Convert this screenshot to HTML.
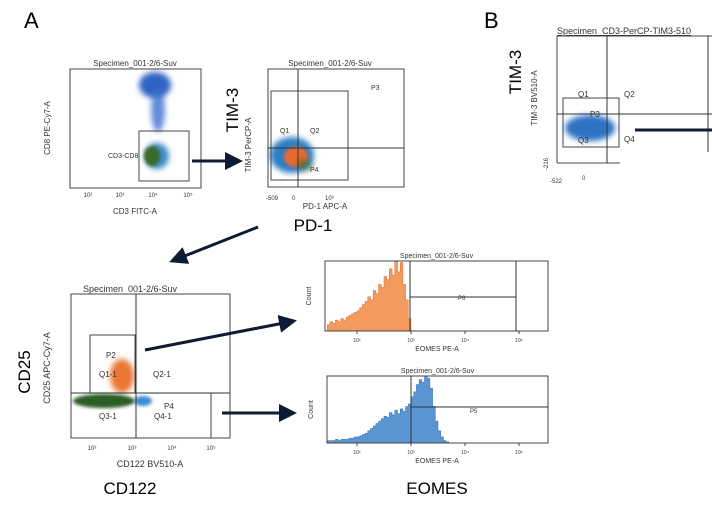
<!DOCTYPE html>
<html><head><meta charset="utf-8"><style>
body{margin:0;background:#fff;}
svg text{font-family:"Liberation Sans",sans-serif;}
</style></head><body>
<svg id="fig" width="712" height="505" viewBox="0 0 712 505" xmlns="http://www.w3.org/2000/svg">
<defs>
<filter id="bl" x="-50%" y="-50%" width="200%" height="200%"><feGaussianBlur stdDeviation="3"/></filter>
<filter id="bl2" x="-50%" y="-50%" width="200%" height="200%"><feGaussianBlur stdDeviation="1.5"/></filter>
<marker id="ah" markerWidth="6" markerHeight="6" refX="5" refY="3" orient="auto"><path d="M0,0 L6,3 L0,6 z" fill="#0d1b33"/></marker>
</defs>

<text x="24" y="28" font-size="22">A</text>
<text x="484" y="28" font-size="22">B</text>

<!-- Plot 1 CD3/CD8 -->
<g>
<text x="135" y="66" font-size="8" text-anchor="middle" fill="#333">Specimen_001-2/6-Suv</text>
<rect x="70" y="69" width="131" height="119" fill="#fff" stroke="#444"/>
<ellipse cx="155" cy="85" rx="16" ry="13" fill="#2f63c4" filter="url(#bl)"/>
<ellipse cx="158" cy="110" rx="7" ry="22" fill="#3d6fd0" filter="url(#bl)" opacity="0.8"/>
<ellipse cx="157" cy="156" rx="12" ry="13" fill="#3a8bc6" filter="url(#bl)"/>
<ellipse cx="152" cy="156" rx="8" ry="10" fill="#3b6b2a" filter="url(#bl2)"/>
<rect x="139" y="131" width="50" height="50" fill="none" stroke="#444"/>
<text x="108" y="158" font-size="7" fill="#333">CD3-CD8</text>
<g font-size="6" fill="#333"><text x="88" y="197" text-anchor="middle">10²</text><text x="120" y="197" text-anchor="middle">10³</text><text x="153" y="197" text-anchor="middle">10⁴</text><text x="188" y="197" text-anchor="middle">10⁵</text></g>
<text x="135" y="214" font-size="8" text-anchor="middle" fill="#333">CD3 FITC-A</text>
<text transform="translate(50,128) rotate(-90)" font-size="8" text-anchor="middle" fill="#333">CD8 PE-Cy7-A</text>
</g>
<line x1="192" y1="161" x2="240" y2="161" stroke="#0d1b33" stroke-width="3" marker-end="url(#ah)"/>

<!-- Plot 2 TIM-3/PD-1 -->
<g>
<text x="330" y="66" font-size="8" text-anchor="middle" fill="#333">Specimen_001-2/6-Suv</text>
<rect x="268" y="69" width="136" height="118" fill="#fff" stroke="#444"/>
<ellipse cx="292" cy="155" rx="22" ry="18" fill="#2f7dc4" filter="url(#bl)"/>
<ellipse cx="296" cy="157" rx="12" ry="10" fill="#e96a2e" filter="url(#bl2)"/>
<ellipse cx="305" cy="165" rx="8" ry="6" fill="#3b6b2a" filter="url(#bl)" opacity="0.6"/>
<rect x="271" y="91" width="77" height="89" fill="none" stroke="#444"/>
<line x1="298" y1="69" x2="298" y2="187" stroke="#333"/>
<line x1="268" y1="148" x2="404" y2="148" stroke="#333"/>
<g font-size="7" fill="#333"><text x="280" y="133">Q1</text><text x="310" y="133">Q2</text><text x="371" y="90">P3</text><text x="310" y="172">P4</text></g>
<g font-size="6" fill="#333"><text x="266" y="200">-509</text><text x="292" y="200">0</text><text x="325" y="200">10³</text></g>
<text x="325" y="209" font-size="8" text-anchor="middle" fill="#333">PD-1 APC-A</text>
<text transform="translate(251,145) rotate(-90)" font-size="8" text-anchor="middle" fill="#333">TIM-3 PerCP-A</text>
<text transform="translate(238,110) rotate(-90)" font-size="17" text-anchor="middle">TIM-3</text>
<text x="313" y="231" font-size="17" text-anchor="middle">PD-1</text>
</g>
<line x1="258" y1="227" x2="172" y2="261" stroke="#0d1b33" stroke-width="3" marker-end="url(#ah)"/>

<!-- Panel B -->
<g>
<text x="557" y="34" font-size="9" fill="#333" text-decoration="underline">Specimen_CD3-PerCP-TIM3-510</text>
<line x1="557" y1="36" x2="712" y2="36" stroke="#444"/>
<line x1="557" y1="36" x2="557" y2="163" stroke="#444"/>
<line x1="557" y1="163" x2="620" y2="163" stroke="#444"/>
<ellipse cx="590" cy="128" rx="25" ry="13" fill="#2f72c4" filter="url(#bl)"/>
<rect x="563" y="98" width="56" height="49" fill="none" stroke="#444"/>
<line x1="607" y1="36" x2="607" y2="163" stroke="#333"/>
<line x1="557" y1="114" x2="712" y2="114" stroke="#333"/>
<line x1="708" y1="36" x2="708" y2="152" stroke="#333"/>
<g font-size="8" fill="#333"><text x="578" y="97">Q1</text><text x="624" y="97">Q2</text><text x="590" y="117">P3</text><text x="578" y="143">Q3</text><text x="624" y="142">Q4</text></g>
<g font-size="6" fill="#333"><text x="550" y="183">-522</text><text x="582" y="180">0</text><text transform="translate(548,170) rotate(-90)">-216</text></g>
<text transform="translate(537,98) rotate(-90)" font-size="8" text-anchor="middle" fill="#333">TIM-3 BV510-A</text>
<text transform="translate(521,72) rotate(-90)" font-size="17" text-anchor="middle">TIM-3</text>
<line x1="635" y1="130" x2="712" y2="130" stroke="#0d1b33" stroke-width="3"/>
</g>

<!-- Plot 3 CD25/CD122 -->
<g>
<text x="130" y="292" font-size="9" text-anchor="middle" fill="#333">Specimen_001-2/6-Suv</text>
<rect x="71" y="294" width="159" height="144" fill="#fff" stroke="#444"/>
<ellipse cx="122" cy="376" rx="12" ry="17" fill="#ea7632" filter="url(#bl)"/>
<ellipse cx="104" cy="401" rx="31" ry="7" fill="#2c5e25" filter="url(#bl2)"/>
<ellipse cx="143" cy="401" rx="9" ry="5" fill="#3d8bd1" filter="url(#bl2)"/>
<rect x="90" y="335" width="45" height="58" fill="none" stroke="#444"/>
<rect x="136" y="393" width="75" height="45" fill="none" stroke="#444"/>
<line x1="136" y1="294" x2="136" y2="438" stroke="#333"/>
<line x1="71" y1="393" x2="230" y2="393" stroke="#333"/>
<g font-size="8" fill="#333"><text x="106" y="358">P2</text><text x="99" y="377">Q1-1</text><text x="153" y="377">Q2-1</text><text x="164" y="409">P4</text><text x="154" y="419">Q4-1</text><text x="99" y="419">Q3-1</text></g>
<g font-size="6" fill="#333"><text x="92" y="450" text-anchor="middle">10²</text><text x="132" y="450" text-anchor="middle">10³</text><text x="172" y="450" text-anchor="middle">10⁴</text><text x="211" y="450" text-anchor="middle">10⁵</text></g>
<text x="150" y="467" font-size="9" text-anchor="middle" fill="#333">CD122 BV510-A</text>
<text transform="translate(50,368) rotate(-90)" font-size="9" text-anchor="middle" fill="#333">CD25 APC-Cy7-A</text>
<text transform="translate(30,372) rotate(-90)" font-size="17" text-anchor="middle">CD25</text>
<text x="130" y="494" font-size="17" text-anchor="middle">CD122</text>
</g>
<line x1="145" y1="350" x2="294" y2="321" stroke="#0d1b33" stroke-width="3" marker-end="url(#ah)"/>
<line x1="222" y1="413" x2="294" y2="413" stroke="#0d1b33" stroke-width="3" marker-end="url(#ah)"/>

<g id="h1"></g>
<g id="h2"></g>
<text x="437" y="494" font-size="17" text-anchor="middle">EOMES</text>
</svg>
<script>
const logStart = 1.45, binW = 0.05;
const orangeCounts = [4,6,5,7,6,8,7,9,10,11,12,13,15,17,19,22,20,26,24,30,28,35,33,40,36,45,38,44,30,20,8,0];
const blueCounts = [2,2,2,3,2,3,3,3,4,4,5,5,6,7,8,10,12,14,16,18,20,22,21,25,23,27,24,28,26,30,32,38,42,48,52,50,55,53,45,30,18,10,5,2,1,0];
const tickExps = [2,3,4,5];
const tickLabels = ['10²','10³','10⁴','10⁵'];
const NS='http://www.w3.org/2000/svg';
function el(p,t,a){const e=document.createElementNS(NS,t);for(const k in a)e.setAttribute(k,a[k]);p.appendChild(e);return e;}
function hist(g,o){
  const xs=v=>o.x0+(v-2)*54;
  const ys=c=>o.yb-c/o.ymax*(o.yb-o.yt);
  const t=el(g,'text',{x:(o.l+o.r)/2,y:o.yt-3,'font-size':7,'text-anchor':'middle',fill:'#333'});t.textContent='Specimen_001-2/6-Suv';
  let d='M'+xs(logStart)+','+o.yb;
  o.data.forEach((c,i)=>{d+=' L'+xs(logStart+i*binW)+','+ys(c)+' L'+xs(logStart+(i+1)*binW)+','+ys(c);});
  d+=' L'+xs(logStart+o.data.length*binW)+','+o.yb+'Z';
  const p=el(g,'path',{d:d,fill:o.color,stroke:o.stroke,'stroke-width':0.5});
  
  
  el(g,'rect',{x:o.l,y:o.yt,width:o.r-o.l,height:o.yb-o.yt,fill:'none',stroke:'#444'});
  tickExps.forEach((e,i)=>{const tx=el(g,'text',{x:xs(e),y:o.yb+11,'font-size':5,'text-anchor':'middle',fill:'#333'});tx.textContent=tickLabels[i];
    el(g,'line',{x1:xs(e),x2:xs(e),y1:o.yb,y2:o.yb+3,stroke:'#444'});});
  const xl=el(g,'text',{x:437,y:o.yb+20,'font-size':7,'text-anchor':'middle',fill:'#333'});xl.textContent='EOMES PE-A';
  const yl=el(g,'text',{transform:'translate('+(o.l-14)+','+((o.yt+o.yb)/2)+') rotate(-90)','font-size':7,'text-anchor':'middle',fill:'#333'});yl.textContent='Count';
  o.gates.forEach(ln=>el(g,'line',Object.assign({stroke:'#333'},ln)));
  const gl=el(g,'text',{x:o.gx,y:o.gy,'font-size':6,fill:'#333'});gl.textContent=o.gname;
}
hist(document.getElementById('h1'),{l:325,r:548,yt:261,yb:331,x0:357,ymax:45,data:orangeCounts,color:'#f39a5e',stroke:'#e0692a',
 gates:[{x1:410,x2:410,y1:261,y2:331},{x1:516,x2:516,y1:261,y2:331},{x1:410,x2:516,y1:297,y2:297}],gname:'P6',gx:458,gy:300});
hist(document.getElementById('h2'),{l:327,r:548,yt:376,yb:443,x0:357,ymax:55,data:blueCounts,color:'#5b95d1',stroke:'#2f6fb5',
 gates:[{x1:411,x2:411,y1:376,y2:443},{x1:411,x2:548,y1:407,y2:407}],gname:'P5',gx:470,gy:413});
</script>
</body></html>
